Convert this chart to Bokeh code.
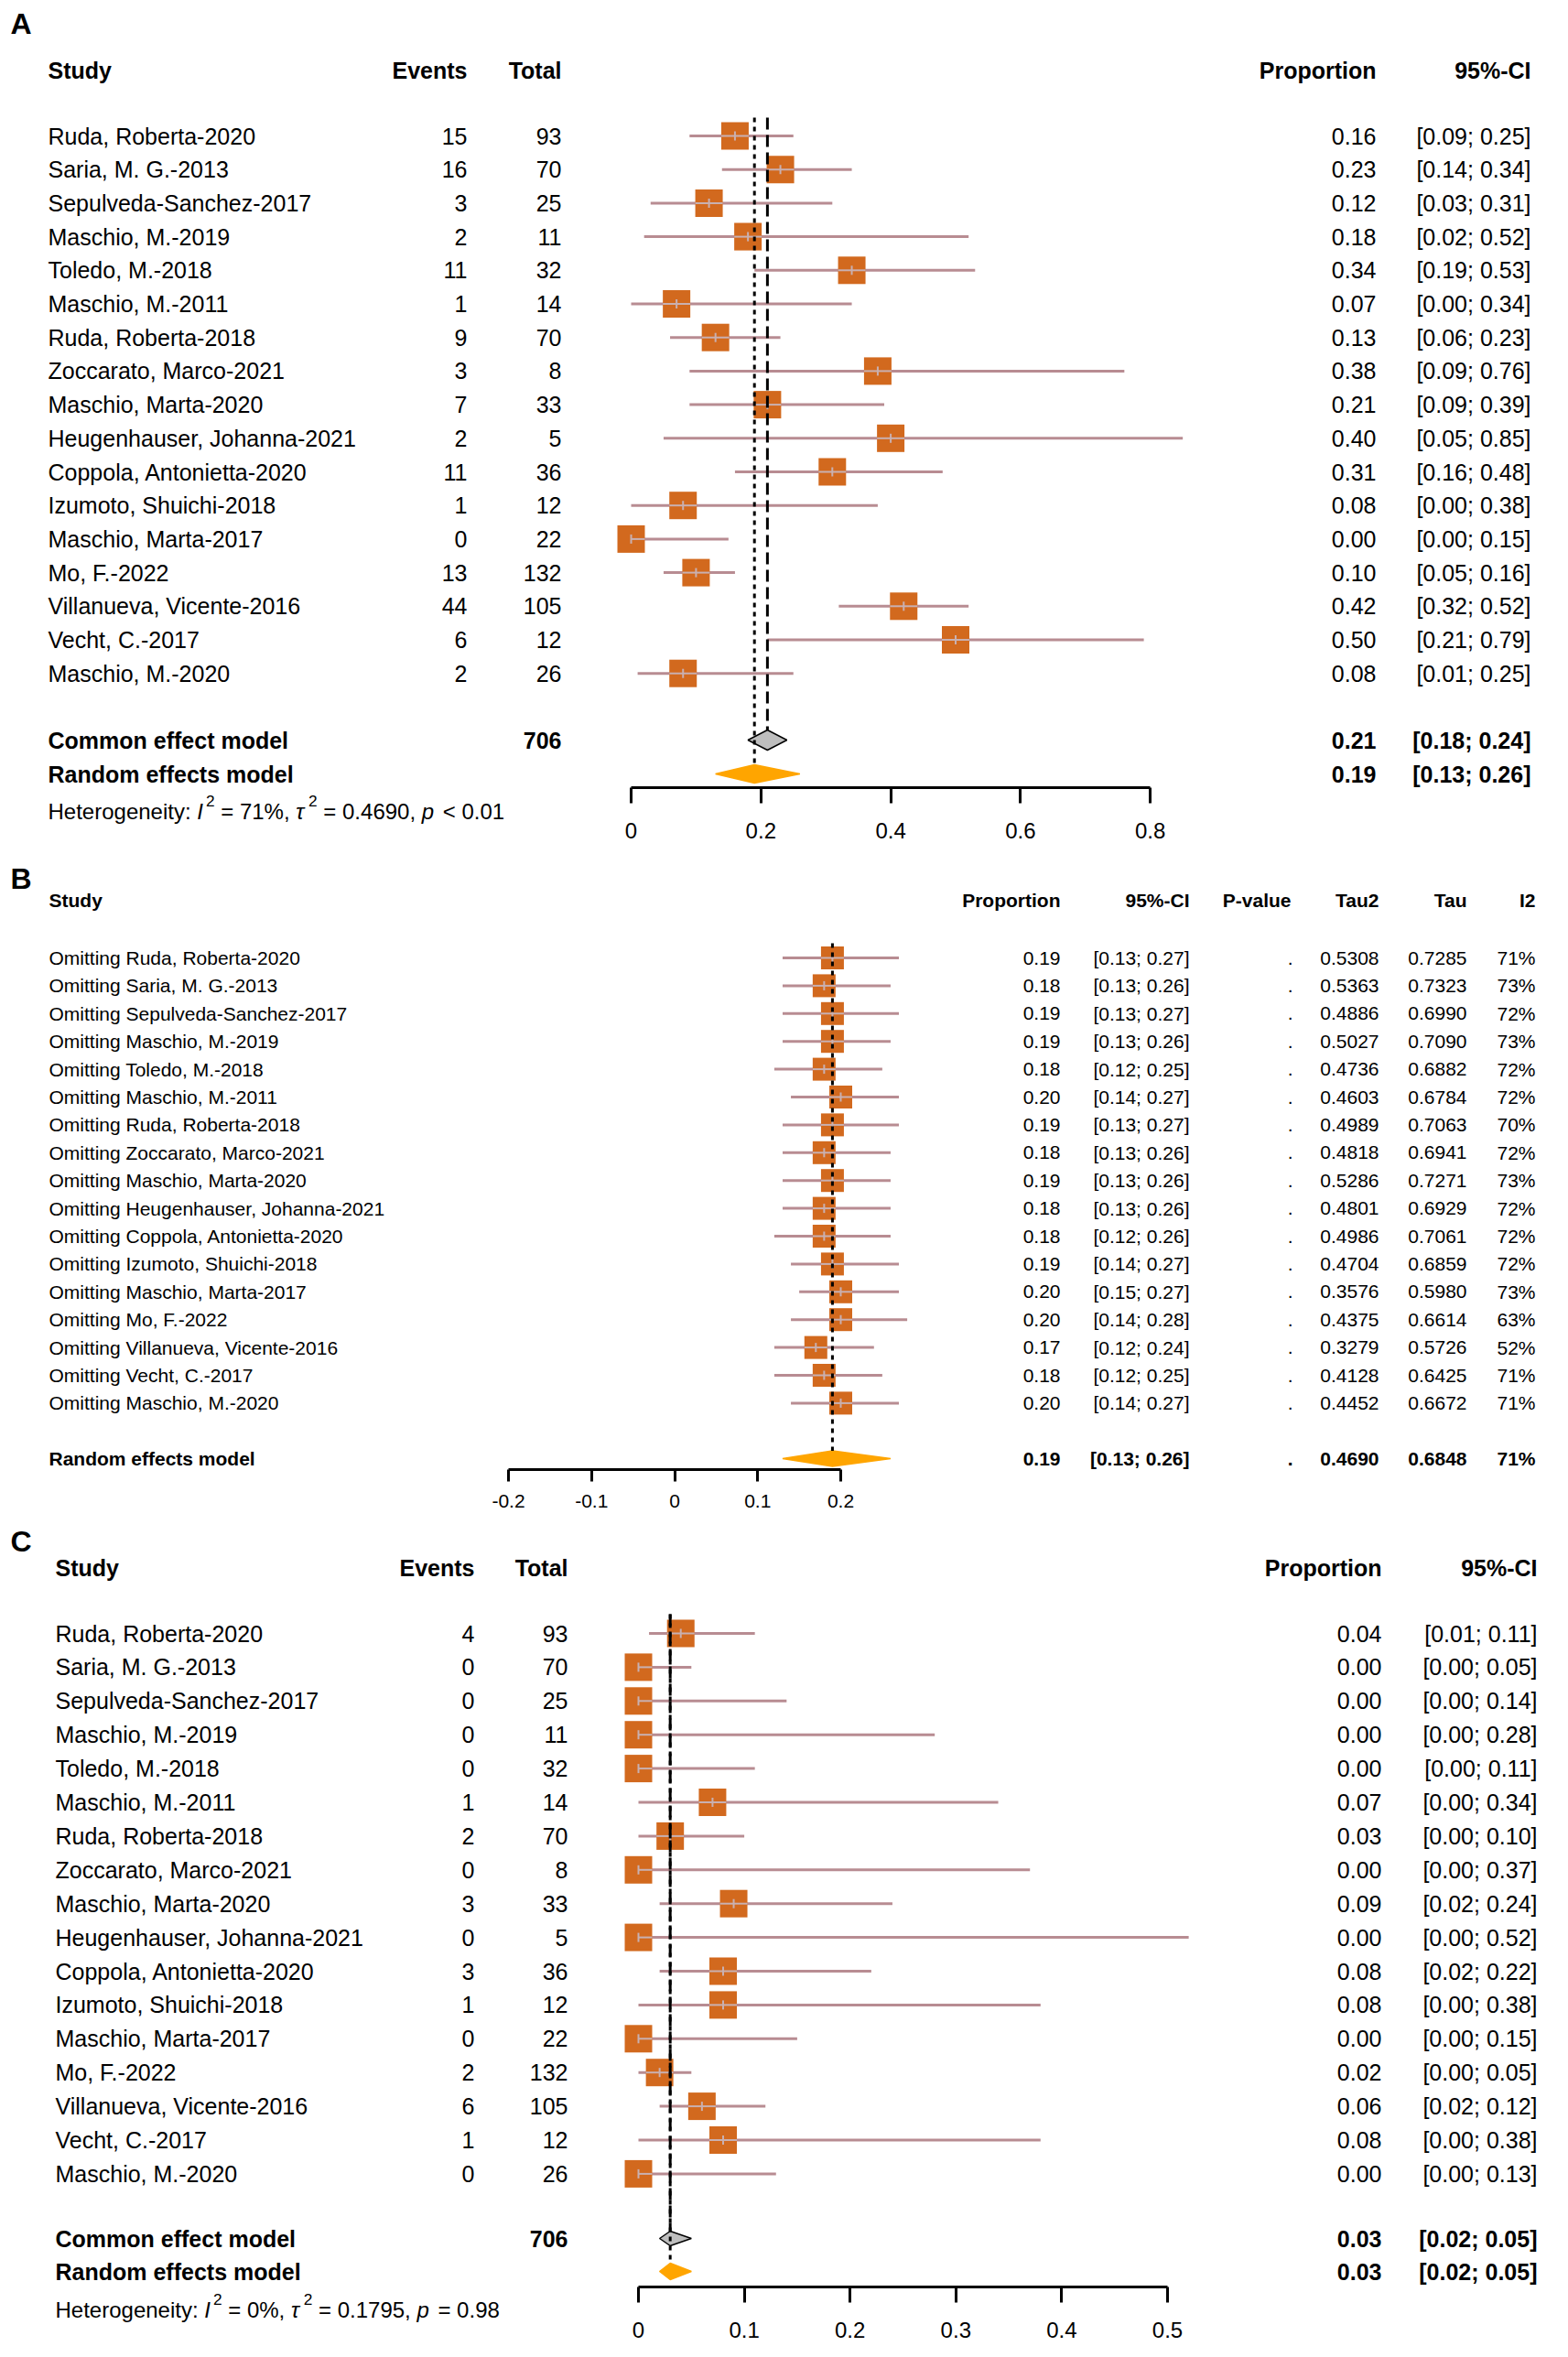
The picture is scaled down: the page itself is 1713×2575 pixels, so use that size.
from bokeh.plotting import figure
from bokeh.models import Range1d, LinearAxis, FixedTicker, CustomJSTickFormatter
from bokeh.layouts import column
from bokeh.core.properties import value
from bokeh.embed import file_html
from bokeh.resources import INLINE

# ---------------- data ----------------
studies = ["Ruda, Roberta-2020", "Saria, M. G.-2013", "Sepulveda-Sanchez-2017", "Maschio, M.-2019",
           "Toledo, M.-2018", "Maschio, M.-2011", "Ruda, Roberta-2018", "Zoccarato, Marco-2021",
           "Maschio, Marta-2020", "Heugenhauser, Johanna-2021", "Coppola, Antonietta-2020",
           "Izumoto, Shuichi-2018", "Maschio, Marta-2017", "Mo, F.-2022", "Villanueva, Vicente-2016",
           "Vecht, C.-2017", "Maschio, M.-2020"]
totals = [93, 70, 25, 11, 32, 14, 70, 8, 33, 5, 36, 12, 22, 132, 105, 12, 26]
total_sum = 706

# Panel A
events_a = [15, 16, 3, 2, 11, 1, 9, 3, 7, 2, 11, 1, 0, 13, 44, 6, 2]
prop_a = [0.16, 0.23, 0.12, 0.18, 0.34, 0.07, 0.13, 0.38, 0.21, 0.40, 0.31, 0.08, 0.00, 0.10, 0.42, 0.50, 0.08]
lower_a = [0.09, 0.14, 0.03, 0.02, 0.19, 0.00, 0.06, 0.09, 0.09, 0.05, 0.16, 0.00, 0.00, 0.05, 0.32, 0.21, 0.01]
upper_a = [0.25, 0.34, 0.31, 0.52, 0.53, 0.34, 0.23, 0.76, 0.39, 0.85, 0.48, 0.38, 0.15, 0.16, 0.52, 0.79, 0.25]
common_a = [0.21, 0.18, 0.24]
random_a = [0.19, 0.13, 0.26]
het_a = ["71%", "0.4690", "< 0.01"]
ticks_a = [0, 0.2, 0.4, 0.6, 0.8]

# Panel B (leave-one-out)
prop_b = [0.19, 0.18, 0.19, 0.19, 0.18, 0.20, 0.19, 0.18, 0.19, 0.18, 0.18, 0.19, 0.20, 0.20, 0.17, 0.18, 0.20]
lower_b = [0.13, 0.13, 0.13, 0.13, 0.12, 0.14, 0.13, 0.13, 0.13, 0.13, 0.12, 0.14, 0.15, 0.14, 0.12, 0.12, 0.14]
upper_b = [0.27, 0.26, 0.27, 0.26, 0.25, 0.27, 0.27, 0.26, 0.26, 0.26, 0.26, 0.27, 0.27, 0.28, 0.24, 0.25, 0.27]
tau2_b = [0.5308, 0.5363, 0.4886, 0.5027, 0.4736, 0.4603, 0.4989, 0.4818, 0.5286, 0.4801, 0.4986, 0.4704,
          0.3576, 0.4375, 0.3279, 0.4128, 0.4452]
tau_b = [0.7285, 0.7323, 0.6990, 0.7090, 0.6882, 0.6784, 0.7063, 0.6941, 0.7271, 0.6929, 0.7061, 0.6859,
         0.5980, 0.6614, 0.5726, 0.6425, 0.6672]
i2_b = [71, 73, 72, 73, 72, 72, 70, 72, 73, 72, 72, 72, 73, 63, 52, 71, 71]
random_b = [0.19, 0.13, 0.26]
random_b_tau2, random_b_tau, random_b_i2 = 0.4690, 0.6848, 71
ticks_b = [-0.2, -0.1, 0, 0.1, 0.2]

# Panel C
events_c = [4, 0, 0, 0, 0, 1, 2, 0, 3, 0, 3, 1, 0, 2, 6, 1, 0]
prop_c = [0.04, 0.00, 0.00, 0.00, 0.00, 0.07, 0.03, 0.00, 0.09, 0.00, 0.08, 0.08, 0.00, 0.02, 0.06, 0.08, 0.00]
lower_c = [0.01, 0.00, 0.00, 0.00, 0.00, 0.00, 0.00, 0.00, 0.02, 0.00, 0.02, 0.00, 0.00, 0.00, 0.02, 0.00, 0.00]
upper_c = [0.11, 0.05, 0.14, 0.28, 0.11, 0.34, 0.10, 0.37, 0.24, 0.52, 0.22, 0.38, 0.15, 0.05, 0.12, 0.38, 0.13]
common_c = [0.03, 0.02, 0.05]
random_c = [0.03, 0.02, 0.05]
het_c = ["0%", "0.1795", "= 0.98"]
ticks_c = [0, 0.1, 0.2, 0.3, 0.4, 0.5]

# ---------------- style ----------------
FONT = "Liberation Sans"
PAGE_W = 1697
MARGIN = 0
SQ_COL = "#D2691E"
CI_COL = "#B88C92"
IN_COL = "#C9B0B0"
COMMON_FILL = "#BEBEBE"
RANDOM_FILL = "#FFA500"

CW = {' ': .278, 'H': .722, 'e': .556, 't': .278, 'r': .333, 'o': .556, 'g': .556, 'n': .556, 'i': .222,
      'y': .5, ':': .278, 'I': .278, '=': .584, '%': .889, ',': .278, 'τ': .45, '.': .278, 'p': .556,
      '<': .584}


def tw(s, size):
    return sum(CW.get(c, 0.556) for c in s) * size


def fmt2(v):
    return f"{v:.2f}"


def ci(lo, hi):
    return f"[{lo:.2f}; {hi:.2f}]"


class Panel:
    def __init__(self, top, bottom, x0, sc):
        self.x0, self.sc = x0, sc
        self.p = figure(width=PAGE_W, height=bottom - top,
                        x_range=Range1d((MARGIN - x0) / sc, (MARGIN + PAGE_W - x0) / sc),
                        y_range=Range1d(bottom, top),
                        x_axis_type=None, y_axis_type=None,
                        output_backend="svg", toolbar_location=None, min_border=0)
        self.p.outline_line_color = None
        self.p.background_fill_color = "white"
        self.p.border_fill_color = "white"

    def d(self, px):
        return (px - self.x0) / self.sc

    def text(self, xpx, ys, texts, align="left", size=25, style="normal", baseline="middle"):
        if not isinstance(ys, (list, tuple)):
            ys = [ys]
            texts = [texts]
        self.p.text(x=[self.d(xpx)] * len(ys), y=ys, text=texts, text_font=value(FONT),
                    text_font_size=f"{size}px", text_font_style=style, text_align=align,
                    text_baseline=baseline, text_color="black")

    def axis(self, y, ticks, tick_len, size, standoff):
        ax = LinearAxis(fixed_location=y, bounds=(ticks[0], ticks[-1]),
                        ticker=FixedTicker(ticks=ticks),
                        formatter=CustomJSTickFormatter(code="return String(Math.round(tick*10)/10);"))
        ax.axis_line_color = "black"
        ax.axis_line_width = 3
        ax.major_tick_line_color = "black"
        ax.major_tick_line_width = 3
        ax.major_tick_in = 0
        ax.major_tick_out = tick_len
        ax.minor_tick_line_color = None
        ax.major_label_text_font = FONT
        ax.major_label_text_font_size = f"{size}px"
        ax.major_label_text_color = "black"
        ax.major_label_standoff = standoff
        self.p.add_layout(ax, "below")

    def studies(self, ys, est, lo, hi, sq):
        half = sq / 2.0 / self.sc
        self.p.segment(x0=lo, y0=ys, x1=hi, y1=ys, line_color=CI_COL, line_width=3)
        self.p.scatter(x=est, y=ys, marker="square", size=sq, fill_color=SQ_COL, line_color=None)
        in_lo = [max(l, e - half) for l, e in zip(lo, est)]
        in_hi = [min(h, e + half) for h, e in zip(hi, est)]
        self.p.segment(x0=in_lo, y0=ys, x1=in_hi, y1=ys, line_color=IN_COL, line_width=2)
        self.p.segment(x0=est, y0=[y - 5 for y in ys], x1=est, y1=[y + 5 for y in ys],
                       line_color=IN_COL, line_width=2)

    def diamond(self, y, vals, h, fill, line):
        e, lo, hi = vals
        self.p.patches(xs=[[lo, e, hi, e]], ys=[[y, y - h / 2, y, y + h / 2]],
                       fill_color=fill, line_color=line, line_width=1.5)

    def vline(self, x, y0, y1, dash):
        self.p.segment(x0=[x], y0=[y0], x1=[x], y1=[y1], line_color="black", line_width=3,
                       line_dash=dash)

    def het(self, left_px, yc, stats, size=24):
        i2, tau2, pv = stats
        base = yc + 0.36 * size
        ssz = size * 0.72
        sbase = base - size * 0.45
        pieces = [("Heterogeneity: ", "normal", False), ("I", "italic", False), ("2", "normal", True),
                  (f" = {i2}, ", "normal", False), ("τ", "italic", False), ("2", "normal", True),
                  (f" = {tau2}, ", "normal", False), ("p", "italic", False), (f" {pv}", "normal", False)]
        x = left_px
        for s, st, sup in pieces:
            fs = ssz if sup else size
            lead = len(s) - len(s.lstrip(" "))
            self.text(x + tw(" " * lead, fs), sbase if sup else base, s.strip(), size=round(fs, 1),
                      style=st, baseline="alphabetic")
            x += tw(s, fs) + (3 if st == "italic" else 0)


def forest(top, bottom, x0, sc, label, label_y, hdr_y, cols, row0, gap, events, est, lo, hi,
           common, random, y_common, y_random, y_het, het, h_common, h_random, line_top,
           axis_y, ticks, tick_len, lab_size, standoff):
    P = Panel(top, bottom, x0, sc)
    ys = [row0 + gap * i for i in range(len(studies))]
    xs_name, xs_ev, xs_tot, xs_prop, xs_ci = cols
    P.text(11, label_y, label, size=32, style="bold")
    P.text(xs_name, hdr_y, "Study", size=25, style="bold")
    P.text(xs_ev, hdr_y, "Events", align="right", size=25, style="bold")
    P.text(xs_tot, hdr_y, "Total", align="right", size=25, style="bold")
    P.text(xs_prop, hdr_y, "Proportion", align="right", size=25, style="bold")
    P.text(xs_ci, hdr_y, "95%-CI", align="right", size=25, style="bold")
    P.text(xs_name, ys, studies)
    P.text(xs_ev, ys, [str(v) for v in events], align="right")
    P.text(xs_tot, ys, [str(v) for v in totals], align="right")
    P.text(xs_prop, ys, [fmt2(v) for v in est], align="right")
    P.text(xs_ci, ys, [ci(a, b) for a, b in zip(lo, hi)], align="right")
    P.studies(ys, est, lo, hi, 30)
    P.diamond(y_common, common, h_common, COMMON_FILL, "black")
    P.diamond(y_random, random, h_random, RANDOM_FILL, RANDOM_FILL)
    P.vline(common[0], line_top, y_common - h_common / 2, "13 6")
    P.vline(random[0], line_top, y_random - h_random / 2, "5 5")
    P.text(xs_name, [y_common, y_random], ["Common effect model", "Random effects model"], style="bold")
    P.text(xs_tot, y_common, str(total_sum), align="right", style="bold")
    P.text(xs_prop, [y_common, y_random], [fmt2(common[0]), fmt2(random[0])], align="right", style="bold")
    P.text(xs_ci, [y_common, y_random], [ci(common[1], common[2]), ci(random[1], random[2])],
           align="right", style="bold")
    P.het(xs_name, y_het, het)
    P.axis(axis_y, ticks, tick_len, lab_size, standoff)
    return P.p


# ---------------- panel A ----------------
pA = forest(0, 940, 689, 709, "A", 25, 76, (52, 510, 613, 1503, 1672), 148, 36.7, events_a,
            prop_a, lower_a, upper_a, common_a, random_a, 808, 845, 877, het_a, 22, 20, 128,
            860, ticks_a, 17, 24, 21)

# ---------------- panel B ----------------
B = Panel(940, 1665, 736.5, 907.5)
ysb = [1046 + 30.4 * i for i in range(len(studies))]
B.text(11, 959, "B", size=32, style="bold")
hb = 983
B.text(53, hb, "Study", size=21, style="bold")
for xr, t in [(1158, "Proportion"), (1299, "95%-CI"), (1410, "P-value"), (1506, "Tau2"), (1602, "Tau"),
              (1677, "I2")]:
    B.text(xr, hb, t, align="right", size=21, style="bold")
B.text(53, ysb, ["Omitting " + s for s in studies], size=21)
B.text(1158, ysb, [fmt2(v) for v in prop_b], align="right", size=21)
B.text(1299, ysb, [ci(a, b) for a, b in zip(lower_b, upper_b)], align="right", size=21)
B.text(1412, ysb, ["."] * len(ysb), align="right", size=21)
B.text(1506, ysb, [f"{v:.4f}" for v in tau2_b], align="right", size=21)
B.text(1602, ysb, [f"{v:.4f}" for v in tau_b], align="right", size=21)
B.text(1677, ysb, [f"{v}%" for v in i2_b], align="right", size=21)
B.studies(ysb, prop_b, lower_b, upper_b, 25)
yrb = 1593
B.diamond(yrb, random_b, 17, RANDOM_FILL, RANDOM_FILL)
B.vline(random_b[0], 1030, yrb - 8.5, "5 5")
B.text(53, yrb, "Random effects model", size=21, style="bold")
B.text(1158, yrb, fmt2(random_b[0]), align="right", size=21, style="bold")
B.text(1299, yrb, ci(random_b[1], random_b[2]), align="right", size=21, style="bold")
B.text(1412, yrb, ".", align="right", size=21, style="bold")
B.text(1506, yrb, f"{random_b_tau2:.4f}", align="right", size=21, style="bold")
B.text(1602, yrb, f"{random_b_tau:.4f}", align="right", size=21, style="bold")
B.text(1677, yrb, f"{random_b_i2}%", align="right", size=21, style="bold")
B.axis(1605, ticks_b, 13, 21, 14)
pB = B.p

# ---------------- panel C ----------------
pC = forest(1665, 2567, 697, 1156, "C", 1683, 1712, (60, 518, 620, 1509, 1679), 1784, 36.9, events_c,
            prop_c, lower_c, upper_c, common_c, random_c, 2445, 2481, 2514, het_c, 16, 18, 1763,
            2498, ticks_c, 17, 24, 21)

layout = column(pA, pB, pC, spacing=0)
open("out.html", "w").write(file_html(layout, INLINE))
